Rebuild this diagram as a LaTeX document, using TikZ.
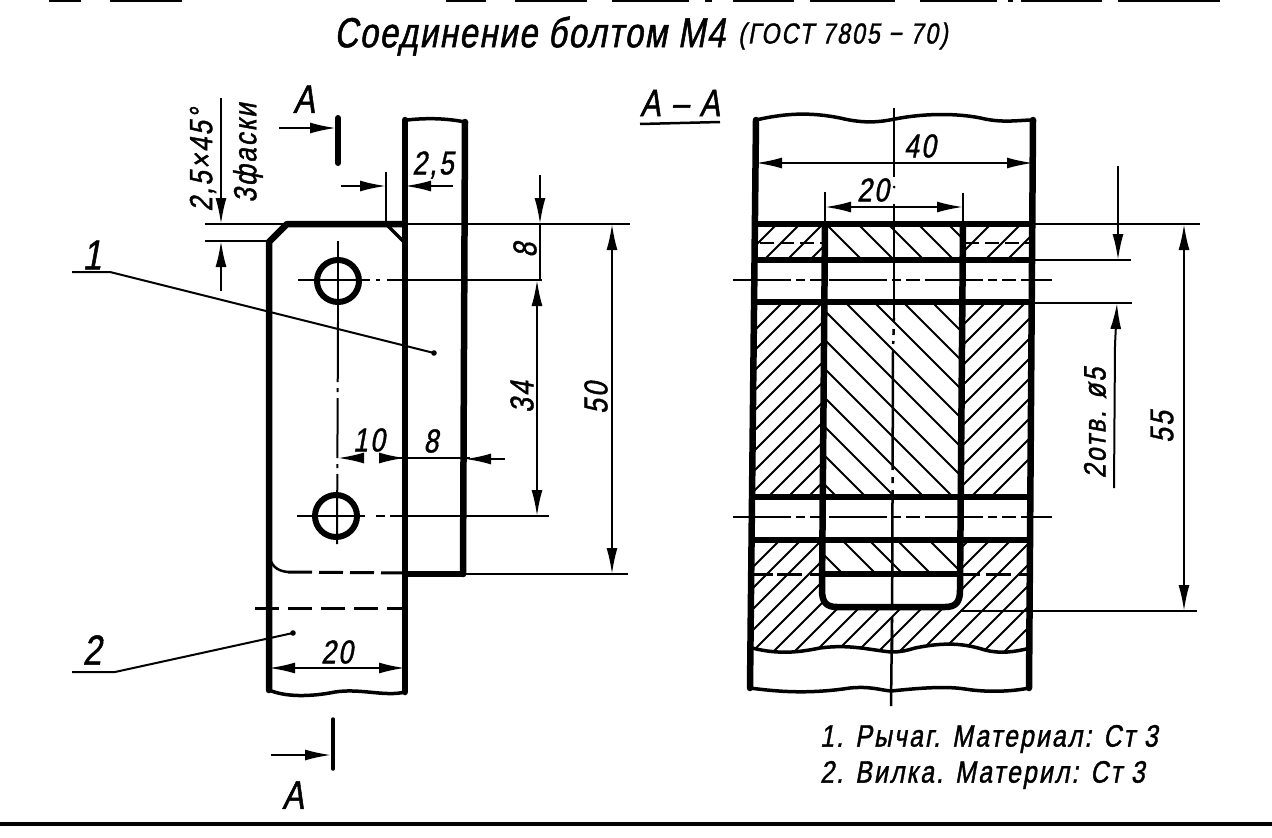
\documentclass[tikz,border=0pt]{standalone}
\usepackage{fontspec}
\setmainfont{Liberation Sans}
\newfontfamily\drfont[FakeStretch=0.8,FakeSlant=0.18,FakeBold=1.2,LetterSpace=7]{Liberation Sans}
\newfontfamily\ttlfont[FakeStretch=0.78,FakeSlant=0.18,FakeBold=1.2,LetterSpace=4]{Liberation Sans}
\usetikzlibrary{arrows.meta}
\newcommand{\fsz}[1]{\fontsize{#1}{#1}\selectfont\drfont}
\tikzset{
  heavy/.style={line width=6.5pt,line cap=round,line join=round,black},
  mid/.style={line width=3.5pt,line cap=round,black},
  thin line/.style={line width=2pt,black},
  hatchline/.style={line width=2pt,black},
  axis line/.style={line width=2pt,black},
  dimtip/.style={-{Latex[length=26pt,width=11pt]}},
  dimboth/.style={{Latex[length=26pt,width=11pt]}-{Latex[length=26pt,width=11pt]}},
  lab/.style={inner sep=0pt,black},
}
\begin{document}
\begin{tikzpicture}[x=1pt,y=-1pt]
\useasboundingbox (0,0) rectangle (1272,838);
% top remnants and bottom rule
\foreach \a/\b in {49/81,110/182,446/486,515/587,612/689,705/712,733/794,810/895,920/997,1008/1013,1021/1102,1118/1220}
  \fill (\a,0) rectangle (\b,1.8);
\draw[line width=4pt] (0,824) -- (1272,824);
% title
\node[lab,anchor=west] (title) at (334,36) {\fontsize{42}{42}\selectfont\ttlfont Соединение болтом М4};
\node[lab,anchor=west] (gost) at (738,36) {\fsz{29}(ГОСТ 7805 − 70)};
% ===== left view =====
\draw[heavy] (405,120) -- (405,692);
\draw[heavy] (465,122) -- (463,574);
\draw[mid] (407,120) .. controls (425,118) and (445,118) .. (465,122);
\draw[heavy] (269,690) -- (269,242) -- (287,224) -- (405,224);
\draw[mid] (386,224) -- (405,243);
\draw[mid] (269,690) .. controls (285,697) and (310,697) .. (335,692) .. controls (360,688) and (385,697) .. (405,692);
\draw[heavy] (405,574) -- (463,574);
\draw[line width=2.5pt] (269,555) .. controls (271,565) and (276,571) .. (288,572);
\draw[line width=3pt,dash pattern=on 24pt off 7pt] (288,572) -- (405,573);
\draw[line width=3pt,dash pattern=on 24pt off 9pt] (255,608) -- (405,608);
\node[circle,draw,line width=6pt,minimum size=42pt,inner sep=0pt] (holeA) at (338,281) {};
\node[circle,draw,line width=6pt,minimum size=42pt,inner sep=0pt] (holeB) at (336,516) {};
\draw[thin line] (338,241) -- (338,322);
\draw[thin line,dash pattern=on 60pt off 6pt on 4pt off 6pt] (338,322) -- (337,545);
\draw[thin line] (298,280) -- (370,280) (376,280) -- (380,280) (387,280) -- (542,280);
\draw[thin line] (297,516) -- (365,516) (376,516) -- (385,516) (390,516) -- (549,516);
\draw[thin line] (205,224) -- (285,224) (405,224) -- (630,224);
\draw[thin line] (205,241) -- (270,241);
\draw[thin line] (465,574) -- (628,574);
% section marks
\draw[line width=6pt,line cap=round] (338,118) -- (338,163);
\draw[thin line,dimtip] (279,128) -- (336,128);
\node[lab] (secA) at (304,99) {\fsz{40}А};
\draw[line width=3.5pt,line cap=round] (333,719) -- (333,769);
\draw[thin line,dimtip] (271,755) -- (331,755);
\node[lab] (secB) at (293,795) {\fsz{40}А};
% chamfer dimension
\draw[thin line,dimtip] (221,98) -- (221,224);
\draw[thin line,dimtip] (221,291) -- (221,241);
\node[lab,rotate=90] (cham) at (203,160) {\fsz{32}2,5×45°};
\node[lab,rotate=90] (fask) at (248,153) {\fsz{32}3фаски};
% 2,5
\draw[thin line] (386,172) -- (386,224);
\draw[thin line,dimtip] (341,186) -- (386,186);
\draw[thin line,dimtip] (453,186) -- (405,186);
\node[lab] (d25) at (433,165) {\fsz{33}2,5};
% vertical dims
\draw[thin line,dimtip] (540,175) -- (540,224);
\draw[thin line] (540,224) -- (540,280);
\node[lab,rotate=90] (d8a) at (525,250) {\fsz{33}8};
\draw[thin line,dimboth] (537,280) -- (537,516);
\node[lab,rotate=90] (d34) at (522,397) {\fsz{33}34};
\draw[thin line,dimboth] (612,224) -- (612,574);
\node[lab,rotate=90] (d50) at (596,398) {\fsz{33}50};
% 10 and 8
\draw[thin line,dimtip] (364,458) -- (338,458);
\draw[thin line,dimtip] (380,458) -- (405,458);
\draw[thin line] (380,458) -- (470,458);
\draw[thin line,dimtip] (505,459) -- (465,459);
\node[lab] (d10) at (369,440) {\fsz{33}10};
\node[lab] (d8b) at (431,441) {\fsz{33}8};
% 20
\draw[thin line,dimboth] (269,668) -- (405,668);
\node[lab] (d20) at (337,652) {\fsz{33}20};
% leaders
\node[lab] (n1) at (92,255) {\fsz{42}1};
\node[lab] (n2) at (92,650) {\fsz{42}2};
\coordinate (l1a) at (72,272); \coordinate (l1b) at (110,272); \coordinate (l1c) at (434,353);
\coordinate (l2a) at (72,672); \coordinate (l2b) at (115,672); \coordinate (l2c) at (293,633);
\draw[thin line] (l1a) -- (l1b) -- (l1c);
\draw[thin line] (l2a) -- (l2b) -- (l2c);
\fill (l1c) circle (2.8pt) (l2c) circle (2.8pt);
% ===== section A-A =====
\node[lab] (aa) at (680,103) {\fsz{38}А – А};
\coordinate (ua) at (640,124); \coordinate (ub) at (720,122);
\draw[line width=2.5pt] (ua) -- (ub);
% hatching
\begin{scope}\clip (756,224) rectangle (825,260);
  \foreach \c in {978,1001,1024,1047,1070} \draw[hatchline] (700,\c-700) -- (900,\c-900);
\end{scope}
\begin{scope}\clip (963,224) rectangle (1033,260);
  \foreach \c in {1192,1215,1245,1267,1290} \draw[hatchline] (900,\c-900) -- (1100,\c-1100);
\end{scope}
\begin{scope}\clip (825,224) rectangle (963,260);
  \foreach \c in {602,634,664,694,724} \draw[hatchline] (780,780-\c) -- (1000,1000-\c);
\end{scope}
\begin{scope}\clip (754,302) rectangle (825,497);
  \foreach \k in {-3,...,9} \draw[hatchline] (700,1145+20*\k-700) -- (900,1145+20*\k-900);
\end{scope}
\begin{scope}\clip (963,302) rectangle (1032,497);
  \foreach \k in {-3,...,9} \draw[hatchline] (900,1308+20*\k-900) -- (1100,1308+20*\k-1100);
\end{scope}
\begin{scope}\clip (824,302) rectangle (963,497);
  \foreach \k in {-5,...,11} \draw[hatchline] (780,780-514+29*\k) -- (1000,1000-514+29*\k);
\end{scope}
\begin{scope}\clip (822,540) rectangle (960,574);
  \foreach \c in {269,302,329,357,389,420} \draw[hatchline] (780,780-\c) -- (1000,1000-\c);
\end{scope}
\begin{scope}
  \clip (752,540) -- (822,540) -- (822,590) .. controls (822,602) and (826,607) .. (837,607)
     -- (945,607) .. controls (956,607) and (960,602) .. (960,590) -- (960,540) -- (1030,540)
     -- (1030,648) .. controls (1015,652) and (1000,654) .. (985,650) .. controls (960,642) and (940,643) .. (915,648)
     .. controls (905,651) and (900,652) .. (891,652) .. controls (870,650) and (850,644) .. (820,648)
     .. controls (800,652) and (780,655) .. (752,648) -- cycle;
  \foreach \k in {0,...,19} \draw[hatchline] (700,1320+21*\k-700) -- (1100,1320+21*\k-1100);
\end{scope}
% outlines
\draw[heavy] (756,120) -- (750,688);
\draw[heavy] (1033,120) -- (1029,688);
\draw[mid] (756,120) .. controls (790,112) and (815,113) .. (840,118) .. controls (865,124) and (880,122) .. (895,119)
   .. controls (925,113) and (960,113) .. (985,119) .. controls (1005,123) and (1020,120) .. (1033,120);
\draw[mid] (750,688) .. controls (780,692) and (810,694) .. (850,688) .. controls (870,686) and (880,690) .. (891,691)
   .. controls (920,688) and (945,686) .. (965,689) .. controls (990,693) and (1015,691) .. (1029,688);
\draw[mid] (752,648) .. controls (780,655) and (800,652) .. (820,648) .. controls (850,644) and (870,650) .. (891,652)
   .. controls (900,652) and (905,651) .. (915,648) .. controls (940,643) and (960,642) .. (985,650)
   .. controls (1000,654) and (1015,652) .. (1030,648);
\draw[line width=6pt] (756,224) -- (1033,224);
\draw[line width=6pt] (756,260) -- (1033,260);
\draw[line width=6pt] (756,302) -- (1033,302);
\draw[line width=6pt] (754,497) -- (1030,497);
\draw[line width=6pt] (753,540) -- (1030,540);
\draw[line width=6pt] (822,574) -- (960,574);
\draw[heavy] (825,224) -- (822,590) .. controls (822,602) and (826,607) .. (837,607)
   -- (945,607) .. controls (956,607) and (960,602) .. (960,590) -- (963,224);
\draw[line width=3pt,dash pattern=on 20pt off 4pt on 25pt off 8pt] (753,574) -- (822,574);
\draw[line width=3pt,dash pattern=on 20pt off 6pt on 25pt off 8pt] (960,574) -- (1030,574);
\draw[line width=2.5pt,dash pattern=on 14pt off 6pt] (760,243) -- (825,243);
\draw[line width=2.5pt,dash pattern=on 14pt off 6pt] (965,243) -- (1030,243);
\draw[thin line] (960,611) -- (1197,611);
% axes
\draw[line width=2.5pt] (894,108) -- (894,177);
\fill (894,187) circle (1.5pt);
\draw[line width=2.5pt] (894,204) -- (894,318);
\draw[line width=2.5pt,dash pattern=on 3pt off 8pt on 6pt off 6pt] (894,318) -- (893,350);
\draw[line width=2.5pt,dash pattern=on 120pt off 7pt on 6pt off 7pt] (893,350) -- (892,650);
\draw[line width=2.5pt] (892,620) -- (891,706);
\draw[axis line,dash pattern=on 58pt off 5pt on 9pt off 5pt on 14pt off 5pt] (733,280) -- (1052,280);
\draw[axis line,dash pattern=on 58pt off 5pt on 9pt off 5pt on 14pt off 5pt] (733,517) -- (1052,517);
% extension lines
\draw[thin line] (825,192) -- (825,224);
\draw[thin line] (963,193) -- (963,224);
\draw[thin line] (1033,224) -- (1200,224);
\draw[thin line] (1033,260) -- (1131,260);
\draw[thin line] (1033,303) -- (1132,303);
% dims
\draw[thin line,dimboth] (756,163) -- (1033,163);
\node[lab] (d40) at (920,146) {\fsz{33}40};
\draw[thin line,dimboth] (825,207) -- (963,207);
\node[lab] (d20b) at (873,190) {\fsz{33}20};
\draw[thin line,dimtip] (1118,166) -- (1118,260);
\draw[thin line,dimtip] (1114,488) -- (1115,345) -- (1117,303);
\draw[thin line,dimboth] (1184,224) -- (1184,611);
\node[lab,rotate=90] (holes) at (1095,423) {\fsz{31}2отв. ø5};
\node[lab,rotate=90] (d55) at (1162,427) {\fsz{33}55};
% legend
\node[lab,anchor=west] (leg1) at (820,739) {\fsz{31}1. Рычаг. Материал: Ст 3};
\node[lab,anchor=west] (leg2) at (820,775) {\fsz{31}2. Вилка. Материл: Ст 3};
\end{tikzpicture}
\end{document}
